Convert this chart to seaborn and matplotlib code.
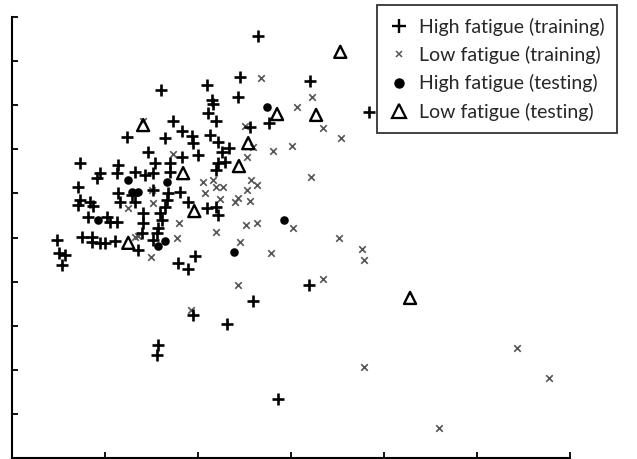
import matplotlib
matplotlib.use("Agg")
import matplotlib.pyplot as plt
import seaborn as sns
import pandas as pd
from matplotlib.lines import Line2D

# ---- data (axis units: x 0..6, y 0..10) ----
high_train_x = [2.64, 2.45, 3.20, 2.10, 1.60, 2.43, 2.15, 2.16, 2.11, 2.19, 1.73, 2.76, 2.56, 1.83,
                1.24, 1.65, 1.94, 1.95, 2.13, 2.22, 1.46, 2.33, 2.26, 2.00, 1.83, 0.73, 0.95, 0.91,
                1.14, 1.13, 1.32, 1.43, 1.54, 1.52, 1.70, 1.70, 2.21, 2.29, 2.19, 0.71, 0.73, 0.71,
                0.84, 1.14, 1.16, 1.29, 1.32, 1.52, 1.68, 1.81, 1.67, 1.65, 1.89, 2.10, 2.19, 0.82,
                1.02, 1.13, 1.41, 1.59, 1.61, 1.57, 1.41, 0.48, 0.75, 0.86, 0.86, 0.95, 1.00, 1.11,
                0.50, 0.57, 0.54, 1.36, 1.40, 1.56, 1.52, 1.78, 1.89, 1.97, 3.19, 2.59, 1.95, 2.31,
                1.57, 1.56, 2.86, 3.84, 2.22, 0.87, 1.05]
high_train_y = [9.57, 8.64, 8.55, 8.46, 8.34, 8.19, 8.12, 8.03, 7.82, 7.64, 7.64, 7.60, 7.51, 7.42,
                7.28, 7.26, 7.30, 7.14, 7.32, 7.17, 6.94, 7.03, 6.94, 6.87, 6.83, 6.69, 6.46, 6.35,
                6.64, 6.46, 6.49, 6.42, 6.69, 6.46, 6.69, 6.49, 6.69, 6.71, 6.53, 6.15, 5.85, 5.74,
                5.81, 6.01, 5.81, 5.96, 5.81, 6.08, 6.01, 6.03, 5.85, 5.69, 5.81, 5.67, 5.69, 5.47,
                5.47, 5.35, 5.56, 5.56, 5.40, 5.22, 5.33, 4.94, 5.01, 5.01, 4.90, 4.88, 4.88, 4.92,
                4.65, 4.60, 4.38, 4.72, 5.10, 5.10, 4.94, 4.42, 4.29, 4.58, 3.92, 3.56, 3.24, 3.04,
                2.56, 2.34, 1.34, 7.85, 5.51, 5.71, 5.35]

low_train_x = [2.68, 3.23, 3.06, 1.41, 2.51, 3.01, 2.81, 2.59, 2.53, 1.73, 2.05, 2.16, 2.27, 2.08,
               2.24, 2.40, 2.43, 2.56, 2.53, 2.57, 2.63, 3.21, 2.52, 2.63, 3.02, 1.80, 1.25, 1.52,
               1.51, 1.35, 1.49, 1.77, 2.19, 2.45, 2.78, 2.43, 1.92, 3.34, 3.54, 3.52, 3.76, 3.78,
               3.34, 5.43, 5.77, 3.79, 4.59, 2.19, 1.32]
low_train_y = [8.62, 8.19, 7.96, 7.64, 7.53, 7.08, 6.96, 7.05, 6.83, 6.89, 6.26, 6.30, 6.15, 6.01,
               5.87, 5.81, 5.90, 5.83, 6.08, 6.30, 6.19, 6.37, 5.28, 5.33, 5.22, 5.33, 5.67, 5.78,
               6.08, 5.03, 4.56, 4.99, 5.12, 4.90, 4.65, 3.92, 3.36, 7.48, 7.26, 4.99, 4.74, 4.49,
               4.06, 2.49, 1.81, 2.06, 0.68, 6.15, 5.01]

high_test_x = [2.74, 1.25, 1.29, 1.36, 1.67, 0.93, 2.93, 1.57, 1.65, 2.39]
high_test_y = [7.96, 6.30, 6.03, 6.03, 6.26, 5.40, 5.40, 4.81, 4.92, 4.67]

low_test_x = [3.53, 2.85, 3.27, 1.41, 2.54, 2.44, 1.84, 1.96, 1.25, 4.28]
low_test_y = [9.21, 7.80, 7.78, 7.55, 7.14, 6.62, 6.46, 5.60, 4.88, 3.63]

labels = ["High fatigue (training)", "Low fatigue (training)",
          "High fatigue (testing)", "Low fatigue (testing)"]
x_ticks = [0, 1, 2, 3, 4, 5, 6]
y_ticks = [0, 1, 2, 3, 4, 5, 6, 7, 8, 9, 10]

sns.set_style("white")
plt.rcParams["font.family"] = ["Lato", "DejaVu Sans"]

fig = plt.figure(figsize=(6.37, 4.59), dpi=100)
ax = fig.add_axes([12 / 637, 1 / 459, 558 / 637, 441 / 459])

df_lt = pd.DataFrame({"x": low_train_x, "y": low_train_y})
df_ht = pd.DataFrame({"x": high_train_x, "y": high_train_y})
df_hs = pd.DataFrame({"x": high_test_x, "y": high_test_y})
df_ls = pd.DataFrame({"x": low_test_x, "y": low_test_y})

sns.scatterplot(data=df_lt, x="x", y="y", marker="x", color="#555555", s=22,
                linewidth=1.2, ax=ax, zorder=2)
sns.scatterplot(data=df_ht, x="x", y="y", marker="+", color="black", s=75,
                linewidth=1.9, ax=ax, zorder=3)
sns.scatterplot(data=df_hs, x="x", y="y", marker="o", color="black", s=38,
                linewidth=0, ax=ax, zorder=4)
sns.scatterplot(data=df_ls, x="x", y="y", marker="^", color="black", s=75,
                linewidth=1.7, ax=ax, zorder=5)
ax.collections[-1].set_facecolor("none")
ax.collections[-1].set_edgecolor("black")

ax.set_xlim(x_ticks[0], x_ticks[-1])
ax.set_ylim(y_ticks[0], y_ticks[-1])
ax.set_xticks(x_ticks)
ax.set_yticks(y_ticks)
ax.set_xticklabels([])
ax.set_yticklabels([])
ax.set_xlabel("")
ax.set_ylabel("")
ax.tick_params(direction="in", length=4, width=1.3, color="black",
               bottom=True, left=True)
for side in ["top", "right"]:
    ax.spines[side].set_visible(False)
for side in ["left", "bottom"]:
    ax.spines[side].set_color("black")
    ax.spines[side].set_linewidth(1.5)

handles = [
    Line2D([], [], marker="+", color="black", linestyle="none", markersize=10, markeredgewidth=1.7),
    Line2D([], [], marker="x", color="#555555", linestyle="none", markersize=5, markeredgewidth=1.1),
    Line2D([], [], marker="o", color="black", linestyle="none", markersize=6.5),
    Line2D([], [], marker="^", markerfacecolor="none", markeredgecolor="black",
           linestyle="none", markersize=10, markeredgewidth=1.6),
]
leg = fig.legend(handles, labels, loc="upper left",
                 bbox_to_anchor=(377 / 637, 1 - 5 / 459), bbox_transform=fig.transFigure,
                 fontsize=14, frameon=True, fancybox=False, borderpad=0.65,
                 labelspacing=0.53, handlelength=1.0, handletextpad=0.5, borderaxespad=0)
leg.get_frame().set_edgecolor("black")
leg.get_frame().set_linewidth(1.3)

fig.savefig("out.png", dpi=100)
